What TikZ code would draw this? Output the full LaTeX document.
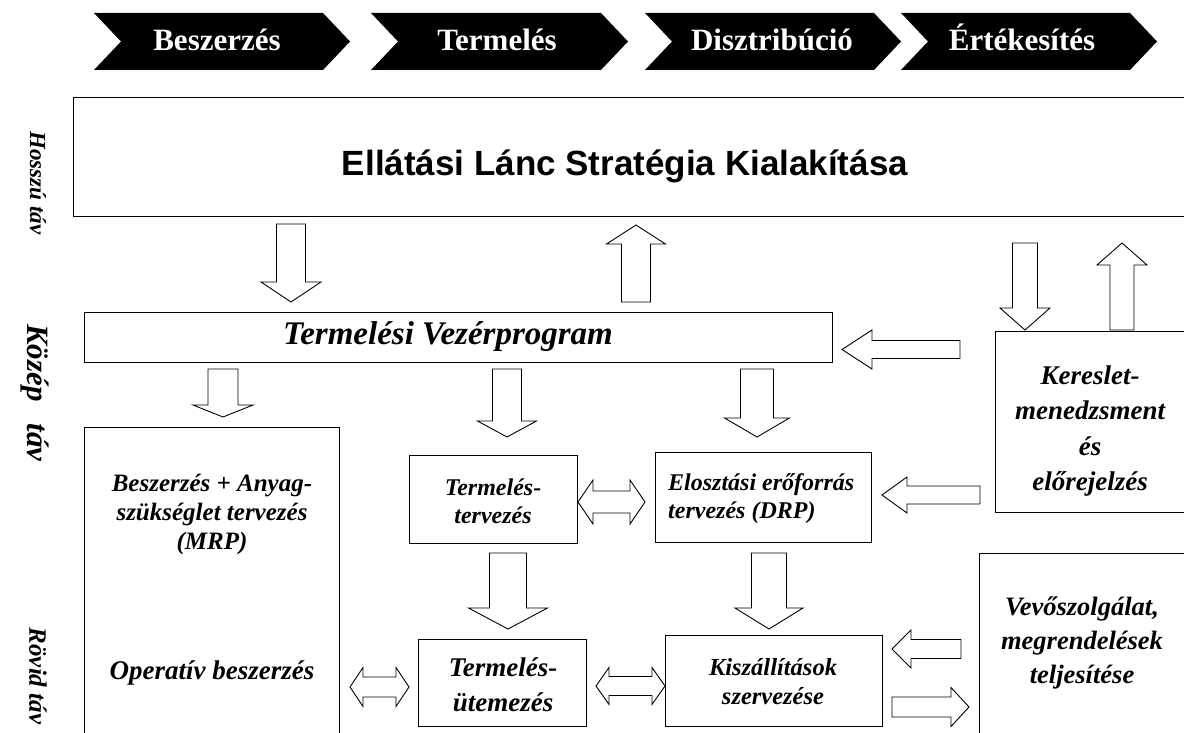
\documentclass[tikz,border=0pt]{standalone}
\usepackage{fontspec}
\setmainfont{Liberation Serif}
\newfontfamily\titlesans{Liberation Sans}
\usetikzlibrary{calc}

\newcommand\fsz[2]{\fontsize{#1}{#2}\selectfont}

\tikzset{
  box/.style={draw=black, line width=1.2pt, fill=white, rectangle, inner sep=0pt},
  blockarrow/.style={draw=black, line width=0.9pt, fill=white, line join=miter},
  chev/.style={fill=black},
  chevtext/.style={text=white, font=\bfseries\fsz{31}{36}, inner sep=0pt, anchor=base},
  lbl/.style={font=\bfseries\itshape, inner sep=0pt, align=center},
  side/.style={font=\bfseries\itshape, inner sep=0pt, rotate=-90},
}

% hollow block arrow: tail, tip, shaft half-width, head half-width, head length
\newcommand\BlockArrow[5]{%
  \coordinate (hb) at ($(#2)!#5!(#1)$);
  \draw[blockarrow] ($(#1)!#3!90:(#2)$) -- ($(hb)!#3!90:(#2)$) -- ($(hb)!#4!90:(#2)$)
    -- (#2) -- ($(hb)!#4!-90:(#2)$) -- ($(hb)!#3!-90:(#2)$) -- ($(#1)!#3!-90:(#2)$) -- cycle;}

% hollow double-headed block arrow: tip a, tip b, shaft half-width, head half-width, head length
\newcommand\DoubleArrow[5]{%
  \coordinate (ha) at ($(#1)!#5!(#2)$);
  \coordinate (hb) at ($(#2)!#5!(#1)$);
  \draw[blockarrow] (#1) -- ($(ha)!#4!90:(#2)$) -- ($(ha)!#3!90:(#2)$) -- ($(hb)!#3!90:(#2)$)
    -- ($(hb)!#4!90:(#2)$) -- (#2) -- ($(hb)!#4!-90:(#2)$) -- ($(hb)!#3!-90:(#2)$)
    -- ($(ha)!#3!-90:(#2)$) -- ($(ha)!#4!-90:(#2)$) -- cycle;}

\begin{document}
\begin{tikzpicture}[x=1pt,y=-1pt]
\useasboundingbox (0,0) rectangle (1184,733);
\fill[white] (0,0) rectangle (1184,733);

% value chain chevrons
\foreach \l/\r in {94/323, 371/601, 645/874, 901/1130} {
  \fill[chev] (\l,13) -- (\r,13) -- (\r+27,41.5) -- (\r,70) -- (\l,70) -- (\l+27,41.5) -- cycle;
}
\node[chevtext] (c1) at (217,51) {Beszerzés};
\node[chevtext] (c2) at (497,51) {Termelés};
\node[chevtext] (c3) at (772,51) {Disztribúció};
\node[chevtext] (c4) at (1022,51) {Értékesítés};

% planning horizons
\node[side, font=\bfseries\itshape\fsz{23}{26}] (long) at (38,183) {Hosszú táv};
\node[side, font=\bfseries\itshape\fsz{31}{34}] (mid) at (35,393) {Közép\hspace{22pt}táv};
\node[side, font=\bfseries\itshape\fsz{25}{28}] (short) at (38,676) {Rövid táv};

% boxes
\node[box, anchor=north west, minimum width=1117, minimum height=119] (strategy) at (73,97) {};
\node[box, anchor=north west, minimum width=748, minimum height=50] (mps) at (84,312) {};
\node[box, anchor=north west, minimum width=255, minimum height=320] (mrp) at (84,427) {};
\node[box, anchor=north west, minimum width=168, minimum height=88] (pplan) at (409,455) {};
\node[box, anchor=north west, minimum width=216, minimum height=90] (drp) at (655,452) {};
\node[box, anchor=north west, minimum width=168, minimum height=87] (psched) at (418,639) {};
\node[box, anchor=north west, minimum width=217, minimum height=91] (ship) at (665,635) {};
\node[box, anchor=north west, minimum width=200, minimum height=181] (demand) at (995,331) {};
\node[box, anchor=north west, minimum width=215, minimum height=200] (service) at (979,553) {};

% box texts
\node[inner sep=0pt, font=\titlesans\bfseries\fsz{35}{40}] (strategy-t) at (625,166) {Ellátási Lánc Stratégia Kialakítása};
\node[lbl, font=\bfseries\itshape\fsz{33}{36}] (mps-t) at (448,337) {Termelési Vezérprogram};
\node[lbl, font=\bfseries\itshape\fsz{25}{29}] (mrp-t) at (212,514) {Beszerzés + Anyag-\\szükséglet tervezés\\(MRP)};
\node[lbl, font=\bfseries\itshape\fsz{27}{30}] (mrp-op) at (212,673) {Operatív beszerzés};
\node[lbl, font=\bfseries\itshape\fsz{24}{28}] (pplan-t) at (493,501) {Termelés-\\tervezés};
\node[lbl, font=\bfseries\itshape\fsz{24}{28}, anchor=west, align=left] (drp-t) at (668,499) {Elosztási erőforrás\\tervezés (DRP)};
\node[lbl, font=\bfseries\itshape\fsz{27}{35}] (psched-t) at (503,684.5) {Termelés-\\ütemezés};
\node[lbl, font=\bfseries\itshape\fsz{24.5}{29}] (ship-t) at (773,682) {Kiszállítások\\szervezése};
\node[lbl, font=\bfseries\itshape\fsz{27}{35.5}] (demand-t) at (1090,431) {Kereslet-\\menedzsment\\és\\előrejelzés};
\node[lbl, font=\bfseries\itshape\fsz{26.5}{34}] (service-t) at (1082,643) {Vevőszolgálat,\\megrendelések\\teljesítése};

% arrow end points
\coordinate (a1s) at (291,224);  \coordinate (a1e) at (291,302);
\coordinate (a2s) at (636,302);  \coordinate (a2e) at (636,225);
\coordinate (a3s) at (1025,243); \coordinate (a3e) at (1025,330);
\coordinate (a4s) at (1122,330); \coordinate (a4e) at (1122,243);
\coordinate (a5s) at (960,349.5); \coordinate (a5e) at (842,349.5);
\coordinate (a6s) at (223,369);  \coordinate (a6e) at (223,417);
\coordinate (a7s) at (507,369);  \coordinate (a7e) at (507,437);
\coordinate (a8s) at (757,369);  \coordinate (a8e) at (757,437);
\coordinate (a9s) at (980,495);  \coordinate (a9e) at (882,495);
\coordinate (d1a) at (578,502);  \coordinate (d1b) at (645,502);
\coordinate (a11s) at (508,553); \coordinate (a11e) at (508,629);
\coordinate (a12s) at (769,553); \coordinate (a12e) at (769,629);
\coordinate (d2a) at (350,687);  \coordinate (d2b) at (409,687);
\coordinate (d3a) at (596,686);  \coordinate (d3b) at (665,686);
\coordinate (a15s) at (961,649); \coordinate (a15e) at (892,649);
\coordinate (a16s) at (892,707); \coordinate (a16e) at (969,707);

% block arrows
\BlockArrow{a1s}{a1e}{14.5pt}{30pt}{20pt}
\BlockArrow{a2s}{a2e}{14.5pt}{29.5pt}{19pt}
\BlockArrow{a3s}{a3e}{12.5pt}{25pt}{22pt}
\BlockArrow{a4s}{a4e}{12pt}{25pt}{22pt}
\BlockArrow{a5s}{a5e}{9pt}{19.5pt}{30pt}
\BlockArrow{a6s}{a6e}{15pt}{30pt}{12pt}
\BlockArrow{a7s}{a7e}{14.5pt}{29.5pt}{16pt}
\BlockArrow{a8s}{a8e}{16.5pt}{32.5pt}{19pt}
\BlockArrow{a9s}{a9e}{9pt}{18pt}{25pt}
\DoubleArrow{d1a}{d1b}{11pt}{22pt}{15pt}
\BlockArrow{a11s}{a11e}{18.5pt}{39.5pt}{21pt}
\BlockArrow{a12s}{a12e}{17.5pt}{34pt}{21pt}
\DoubleArrow{d2a}{d2b}{10pt}{19.5pt}{13pt}
\DoubleArrow{d3a}{d3b}{9.5pt}{18.5pt}{13pt}
\BlockArrow{a15s}{a15e}{9.5pt}{19pt}{19pt}
\BlockArrow{a16s}{a16e}{10pt}{19.5pt}{18pt}
\end{tikzpicture}
\end{document}
